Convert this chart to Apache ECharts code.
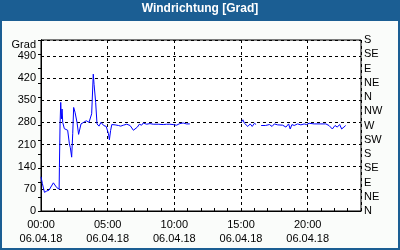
<!DOCTYPE html>
<html><head><meta charset="utf-8">
<script src="https://cdn.jsdelivr.net/npm/echarts@6/dist/echarts.min.js"></script>
<style>html,body{margin:0;padding:0;background:#fafcfa}#c{width:400px;height:250px}</style>
</head><body><div id="c"></div>
<script>
// Time of day in hours (06.04.18), null marks the data gap
const hours = [0.00,0.10,0.26,0.43,0.60,0.93,1.18,1.36,1.38,1.43,1.48,1.53,1.58,1.63,1.75,2.00,2.13,2.20,2.30,2.38,2.45,2.55,2.70,2.82,3.00,3.20,3.40,3.60,3.80,3.92,3.98,4.10,4.20,4.35,4.50,4.70,4.89,5.06,5.13,5.22,5.31,5.56,5.81,5.98,6.18,6.43,6.68,6.80,6.93,7.05,7.23,7.37,7.55,7.67,7.92,8.17,8.42,8.79,9.17,9.42,9.66,9.91,10.16,10.41,10.53,10.66,10.91,11.16,
  13.0,
  15.01,15.14,15.26,15.51,15.69,15.84,16.01,16.13,
  16.3,
  16.51,16.83,17.13,17.33,17.50,17.75,17.87,18.12,18.37,18.57,18.69,18.82,18.99,19.24,19.49,19.74,19.91,20.11,20.49,20.99,21.36,21.60,21.85,22.05,22.22,22.40,22.55,22.72,22.85];
// Wind direction in degrees
const degrees = [108,87,59,63,66,89,74,69,137,275,343,291,322,280,260,255,212,200,170,244,327,312,280,242,275,280,285,280,307,432,400,343,275,268,280,270,267,244,225,254,273,272,270,268,271,274,270,265,255,257,265,274,271,278,274,276,274,274,273,274,274,273,271,276,270,278,275,275,
  null,
  280,288,277,267,275,267,277,273,
  null,
  270,270,273,267,275,272,270,271,265,275,259,273,270,275,272,275,273,277,275,275,275,270,259,270,265,273,259,265,270];
const timeLabels = ['00:00','05:00','10:00','15:00','20:00'];
const dateLabel = '06.04.18';
const leftTicks = [0,70,140,210,280,350,420,490];
const compass = ['N','NE','E','SE','S','SW','W','NW','N','NE','E','SE','S'];
const titleText = 'Windrichtung [Grad]';
const unitLabel = 'Grad';

const font = 'Liberation Sans';
const blue = '#1b5e93';
const chart = echarts.init(document.getElementById('c'), null, {renderer:'canvas'});
const data = hours.map((h,i)=>[h, degrees[i]]);
chart.setOption({
  animation:false,
  backgroundColor:'#fafcfa',
  graphic:[
    {type:'rect', shape:{x:0,y:0,width:400,height:21}, style:{fill:blue}, z:-10, silent:true},
    {type:'rect', shape:{x:1,y:1,width:398,height:248}, style:{fill:null, stroke:blue, lineWidth:2}, z:-10, silent:true}
  ],
  title:{text:titleText, left:'center', top:3, padding:0,
    textStyle:{color:'#ffffff', fontFamily:font, fontSize:12, fontWeight:'bold'}},
  grid:{left:41, top:40, width:320, height:171, show:true, backgroundColor:'#ffffff', borderColor:'#000', borderWidth:1},
  xAxis:[
    {type:'value', min:0, max:24, interval:1,
     axisLine:{show:true, onZero:false, lineStyle:{color:'#000', width:1}},
     axisTick:{show:true, inside:true, length:3, lineStyle:{color:'#000'}},
     axisLabel:{show:false}, splitLine:{show:false}},
    {type:'value', min:0, max:24, interval:5, position:'bottom',
     axisLine:{show:false}, axisTick:{show:false},
     axisLabel:{show:true, margin:7, color:'#000', fontFamily:font, fontSize:11, lineHeight:14,
       formatter:v=>{const i=timeLabels.findIndex((t,k)=>k*5===v); return i>=0 ? timeLabels[i]+'\n'+dateLabel : '';}},
     splitLine:{show:true, lineStyle:{color:'#000', type:[3,3], width:1}}}
  ],
  yAxis:[
    {type:'value', min:0, max:540, interval:70, position:'left',
     axisLine:{show:true, lineStyle:{color:'#000'}}, axisTick:{show:false},
     axisLabel:{margin:5, color:'#000', fontFamily:font, fontSize:11,
       formatter:v=> v===540 ? '{g|'+unitLabel+'}' : (leftTicks.includes(v)? String(v):''),
       rich:{g:{fontFamily:font, fontSize:11, color:'#000', padding:[10,0,0,0]}}},
     splitLine:{show:true, lineStyle:{color:'#000', type:[3,3], width:1}}},
    {type:'value', min:0, max:540, interval:45, position:'right',
     axisLine:{show:true, lineStyle:{color:'#000'}},
     axisTick:{show:true, inside:true, length:3, lineStyle:{color:'#000'}},
     axisLabel:{margin:3, color:'#000', fontFamily:font, fontSize:11, formatter:v=>compass[Math.round(v/45)]},
     splitLine:{show:false}}
  ],
  series:[{type:'line', xAxisIndex:0, yAxisIndex:0, data:data, showSymbol:false, symbol:'none',
    connectNulls:false, lineStyle:{color:'#0000ff', width:1}, z:5}]
});
</script></body></html>
